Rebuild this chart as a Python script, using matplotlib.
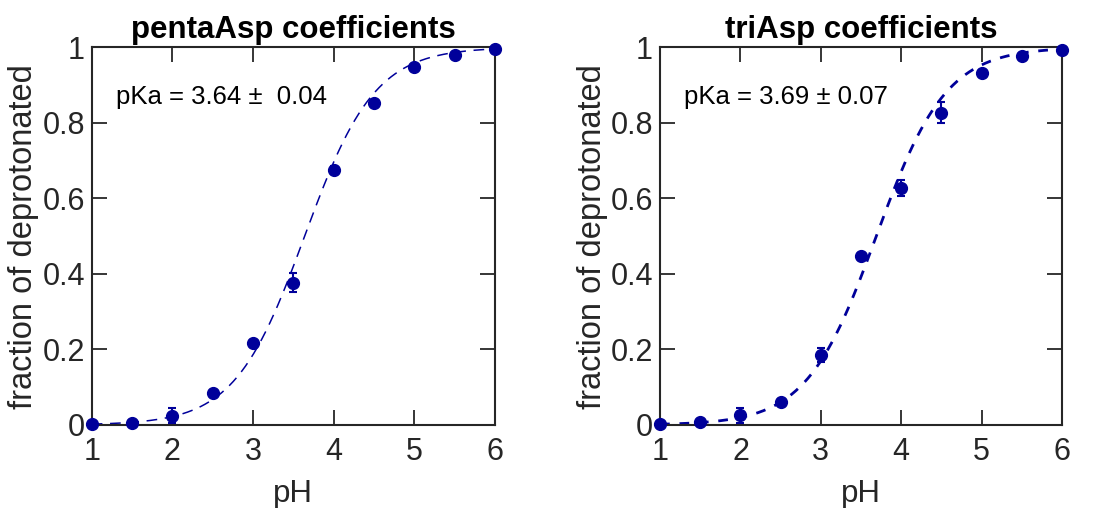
import numpy as np
import matplotlib.pyplot as plt

plt.rcParams['font.family'] = ['Liberation Sans', 'DejaVu Sans']

# pH titration points
ph = [1.0, 1.5, 2.0, 2.5, 3.0, 3.5, 4.0, 4.5, 5.0, 5.5, 6.0]

penta_frac = [0.003, 0.006, 0.024, 0.086, 0.218, 0.377, 0.675, 0.853, 0.947, 0.979, 0.996]
penta_err = [0.004, 0.004, 0.02, 0.006, 0.006, 0.025, 0.01, 0.006, 0.005, 0.004, 0.003]
penta_pka, penta_pka_err = 3.64, 0.04

tri_frac = [0.002, 0.009, 0.026, 0.062, 0.185, 0.447, 0.627, 0.827, 0.933, 0.977, 0.993]
tri_err = [0.004, 0.004, 0.02, 0.006, 0.018, 0.008, 0.022, 0.027, 0.006, 0.005, 0.003]
tri_pka, tri_pka_err = 3.69, 0.07

navy = '#00009a'
ink = '#262626'

fig = plt.figure(figsize=(11.01, 5.08), dpi=100)
ax1 = fig.add_axes([0.0833, 0.1634, 0.3663, 0.7435])
ax2 = fig.add_axes([0.5995, 0.1634, 0.3651, 0.7435])

panels = [
    (ax1, 'pentaAsp coefficients', penta_frac, penta_err, penta_pka,
     'pKa = %.2f \u00b1  %.2f' % (penta_pka, penta_pka_err), 1.1),
    (ax2, 'triAsp coefficients', tri_frac, tri_err, tri_pka,
     'pKa = %.2f \u00b1 %.2f' % (tri_pka, tri_pka_err), 2.0),
]

ph_fit = np.linspace(1, 6, 300)
for ax, title, frac, err, pka, label, lw in panels:
    # Henderson-Hasselbalch curve for the fitted pKa
    fit = 1.0 / (1.0 + 10 ** (pka - ph_fit))
    ax.plot(ph_fit, fit, '--', color=navy, lw=lw, dashes=(7, 5) if lw < 1.5 else (3.5, 3.5),
            clip_on=False, zorder=2)
    ax.errorbar(ph, frac, yerr=err, fmt='o', color=navy, ms=8.5, elinewidth=1.5,
                capsize=3, capthick=1.5, clip_on=False, zorder=3)
    ax.text(1.3, 0.868, label, fontsize=18.5, va='center', ha='left', color='black')

    ax.set_xlim(1, 6)
    ax.set_ylim(0, 1)
    ax.set_xticks([1, 2, 3, 4, 5, 6])
    ax.set_yticks([0, 0.2, 0.4, 0.6, 0.8, 1.0])
    ax.set_yticklabels(['0', '0.2', '0.4', '0.6', '0.8', '1'])
    ax.tick_params(direction='in', length=11, width=1.3, colors=ink, labelcolor=ink,
                   labelsize=22, top=True, right=True)
    ax.tick_params(axis='x', pad=9)
    ax.tick_params(axis='y', pad=5)
    for sp in ax.spines.values():
        sp.set_linewidth(1.5)
        sp.set_color(ink)
    ax.set_xlabel('pH', fontsize=22.5, color=ink, labelpad=8)
    ax.set_ylabel('fraction of deprotonated', fontsize=23.5, color=ink, labelpad=2)
    ax.set_title(title, fontsize=22.5, fontweight='bold', pad=6.5)

fig.savefig('out.png', dpi=100)
